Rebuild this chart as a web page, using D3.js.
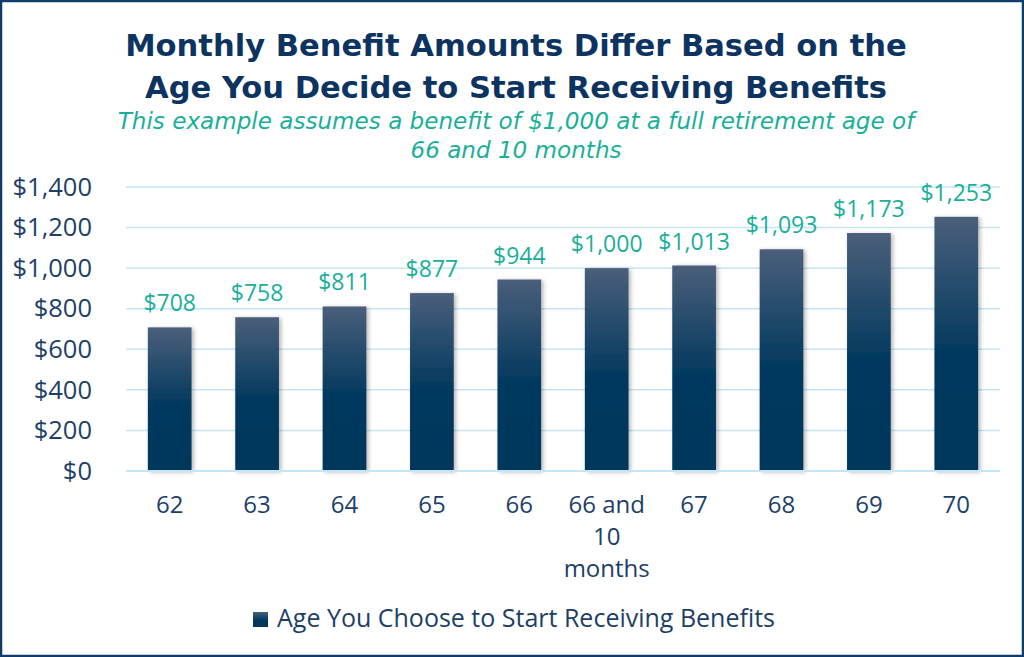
<!DOCTYPE html>
<html><head><meta charset="utf-8">
<script src="https://cdn.jsdelivr.net/npm/d3@7"></script>
<style>body{margin:0;background:#fff}svg{display:block}</style>
</head><body><svg id="c" width="1024" height="657"></svg>
<script>
const categories = ["62","63","64","65","66","66 and 10 months","67","68","69","70"];
const categoryLines = [["62"],["63"],["64"],["65"],["66"],["66 and","10","months"],["67"],["68"],["69"],["70"]];
const values = [708,758,811,877,944,1000,1013,1093,1173,1253];
const yTicks = [0,200,400,600,800,1000,1200,1400];
const seriesName = "Age You Choose to Start Receiving Benefits";
const titleLines = ["Monthly Benefit Amounts Differ Based on the","Age You Decide to Start Receiving Benefits"];
const subtitleLines = ["This example assumes a benefit of $1,000 at a full retirement age of","66 and 10 months"];

const svg = d3.select("#c");
const W=1024,H=657;
const navy="#0d3461", teal="#1aaf98", tick="#1d3f67";
svg.append("rect").attr("x",1).attr("y",1).attr("width",W-2).attr("height",H-2).attr("fill","#fff").attr("stroke","#0f3d6b").attr("stroke-width",2.5);

const defs=svg.append("defs");
const g=defs.append("linearGradient").attr("id","bg").attr("x1",0).attr("y1",0).attr("x2",0).attr("y2",1);
g.append("stop").attr("offset","0%").attr("stop-color","#4a5f7a");
g.append("stop").attr("offset","55%").attr("stop-color","#00385e");
g.append("stop").attr("offset","100%").attr("stop-color","#00375c");
const f=defs.append("filter").attr("id","sh").attr("x","-30%").attr("y","-10%").attr("width","160%").attr("height","130%");
f.append("feDropShadow").attr("dx",2).attr("dy",1).attr("stdDeviation",2).attr("flood-color","#000").attr("flood-opacity",0.3);

const x=d3.scaleBand().domain(categories).range([126,1000]).paddingInner(0.5).paddingOuter(0.25);
const y=d3.scaleLinear().domain([0,1400]).range([471,187]);

// fit helper: scale font size so text spans target width
function fit(sel, target){
  sel.each(function(){
    const fs=+this.getAttribute("font-size");
    const w=this.getComputedTextLength();
    if(w>0) this.setAttribute("font-size",(fs*target/w).toFixed(2));
  });
}

// title
const tt=svg.append("g").selectAll("text").data(titleLines).join("text")
 .attr("x",516).attr("y",(d,i)=>56+i*42).attr("text-anchor","middle")
 .attr("font-family","DejaVu Sans").attr("font-weight",700).attr("font-size",29).attr("fill",navy).text(d=>d);
fit(tt.filter((d,i)=>i===0),782);
tt.filter((d,i)=>i===1).attr("font-size",tt.filter((d,i)=>i===0).attr("font-size"));

const st=svg.append("g").selectAll("text").data(subtitleLines).join("text")
 .attr("x",516).attr("y",(d,i)=>129+i*29).attr("text-anchor","middle")
 .attr("font-family","DejaVu Sans").attr("font-style","italic").attr("font-weight",300).attr("font-size",20).attr("fill",teal).text(d=>d);
fit(st.filter((d,i)=>i===0),797);
st.filter((d,i)=>i===1).attr("font-size",st.filter((d,i)=>i===0).attr("font-size"));

// grid
svg.append("g").selectAll("line").data(yTicks).join("line")
 .attr("x1",126).attr("x2",1000).attr("y1",d=>y(d)).attr("y2",d=>y(d))
 .attr("stroke","#c5e6f7").attr("stroke-width",1.5);

// y axis
const ya=svg.append("g").attr("transform","translate(126,0)")
 .call(d3.axisLeft(y).tickValues(yTicks).tickSize(0).tickPadding(34).tickFormat(d=>"$"+d3.format(",")(d)));
ya.select(".domain").remove();
ya.selectAll("text").attr("font-family","Open Sans").attr("font-size",25.5).attr("fill",tick);

// bars
svg.append("g").selectAll("rect").data(values).join("rect")
 .attr("x",(d,i)=>x(categories[i])).attr("width",x.bandwidth())
 .attr("y",d=>y(d)).attr("height",d=>y(0)-y(d))
 .attr("fill","url(#bg)").attr("filter","url(#sh)");

// baseline
svg.append("line").attr("x1",126).attr("x2",1000).attr("y1",y(0)).attr("y2",y(0)).attr("stroke","#c5e6f7").attr("stroke-width",2);

// value labels
svg.append("g").selectAll("text").data(values).join("text")
 .attr("x",(d,i)=>x(categories[i])+x.bandwidth()/2).attr("y",d=>y(d)-16)
 .attr("text-anchor","middle").attr("font-family","Open Sans").attr("font-size",23).attr("fill",teal)
 .text(d=>"$"+d3.format(",")(d));

// x labels
const xl=svg.append("g").selectAll("text").data(categories).join("text")
 .attr("text-anchor","middle").attr("font-family","Open Sans").attr("font-size",24).attr("fill",tick);
xl.each(function(d,i){
  const t=d3.select(this);
  categoryLines[i].forEach((s,j)=>t.append("tspan").attr("x",x(d)+x.bandwidth()/2).attr("y",513+j*32).text(s));
});

// legend
svg.append("rect").attr("x",253).attr("y",612).attr("width",15).attr("height",15).attr("fill","url(#bg)");
svg.append("text").attr("x",277).attr("y",627).attr("font-family","Open Sans").attr("font-size",25).attr("fill",tick).text(seriesName);
</script></body></html>
